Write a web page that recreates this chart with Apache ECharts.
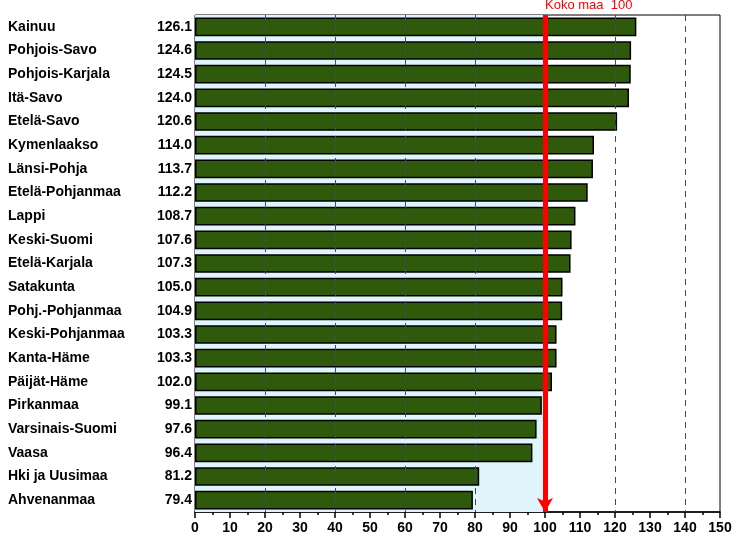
<!DOCTYPE html>
<html><head><meta charset="utf-8">
<script src="https://cdn.jsdelivr.net/npm/echarts@6/dist/echarts.min.js"></script>
<style>html,body{margin:0;padding:0;background:#fff}#c{width:746px;height:548px}</style>
</head><body><div id="c"></div>
<script>
const categories = ["Kainuu","Pohjois-Savo","Pohjois-Karjala","Itä-Savo","Etelä-Savo","Kymenlaakso","Länsi-Pohja","Etelä-Pohjanmaa","Lappi","Keski-Suomi","Etelä-Karjala","Satakunta","Pohj.-Pohjanmaa","Keski-Pohjanmaa","Kanta-Häme","Päijät-Häme","Pirkanmaa","Varsinais-Suomi","Vaasa","Hki ja Uusimaa","Ahvenanmaa"];
const values = [126.1,124.6,124.5,124.0,120.6,114.0,113.7,112.2,108.7,107.6,107.3,105.0,104.9,103.3,103.3,102.0,99.1,97.6,96.4,81.2,79.4];
const referenceValue = 100;
const referenceLabel = "Koko maa  100";
const gridLineValues = [20,40,60,80,120,140];

const valueLabels = values.map(v => v.toFixed(1));
const font = '"Liberation Sans", Arial, sans-serif';

const chart = echarts.init(document.getElementById('c'), null, {renderer:'canvas'});
chart.setOption({
  animation:false,
  backgroundColor:'#fff',
  grid:{left:195,right:26,top:15,bottom:36,show:true,borderColor:'#000',borderWidth:1,backgroundColor:'#fff'},
  xAxis:{type:'value',min:0,max:150,interval:10,
    axisLine:{show:true,lineStyle:{color:'#000',width:1.5}},
    axisTick:{show:true,length:6,lineStyle:{color:'#000',width:1.5}},
    minorTick:{show:true,splitNumber:2,length:3,lineStyle:{color:'#000',width:1.5}},
    axisLabel:{color:'#000',fontFamily:font,fontSize:14,fontWeight:'bold',margin:9},
    splitLine:{show:false}},
  yAxis:[
    {type:'category',data:categories,inverse:true,position:'left',
      axisLine:{show:false},axisTick:{show:false},
      axisLabel:{align:'left',margin:187,color:'#000',fontFamily:font,fontSize:14,fontWeight:'bold'}},
    {type:'category',data:valueLabels,inverse:true,position:'left',
      axisLine:{show:false},axisTick:{show:false},
      axisLabel:{align:'right',margin:3,color:'#000',fontFamily:font,fontSize:14,fontWeight:'bold'}},
    {type:'value',min:0,max:1,show:false}
  ],
  series:[
    {type:'line',data:[],yAxisIndex:2,z:1,
      markArea:{silent:true,itemStyle:{color:'#e0f4fc'},data:[[{xAxis:0,yAxis:0},{xAxis:referenceValue,yAxis:1}]]}},
    {type:'bar',data:values,yAxisIndex:0,barCategoryGap:'21%',
      itemStyle:{color:'#2f5a0b',borderColor:'#000',borderWidth:1.5},
      z:2},
    {type:'line',data:[],yAxisIndex:0,z:5,
      markLine:{silent:true,symbol:'none',label:{show:false},
        lineStyle:{color:'#3b4c6e',type:[6,5],width:1},
        data:gridLineValues.map(v=>({xAxis:v}))}},
    {type:'line',data:[],yAxisIndex:0,z:6,
      markLine:{silent:true,symbol:['none','arrow'],symbolSize:[12,14],
        lineStyle:{color:'#ff0000',width:5,type:'solid'},
        label:{show:true,position:'start',formatter:referenceLabel,color:'#ff0000',fontFamily:font,fontSize:13,align:'left',distance:3},
        data:[{xAxis:referenceValue}]}}
  ]
});
</script></body></html>
